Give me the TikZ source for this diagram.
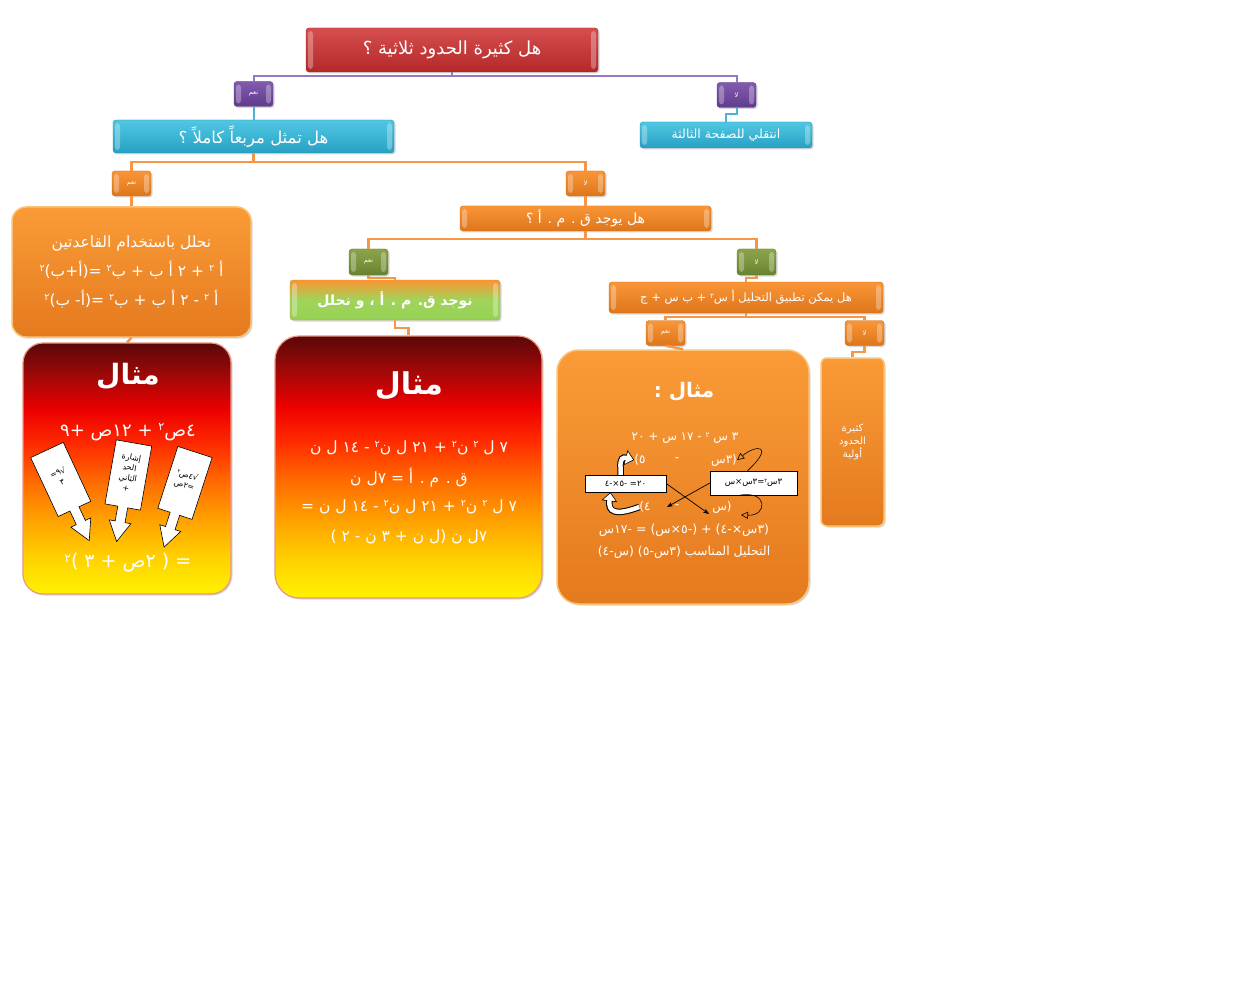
\documentclass[tikz,border=0pt]{standalone}
\usepackage{fontspec}
\usetikzlibrary{shadows,arrows.meta,calc}
\newfontfamily\arabicfont[Script=Arabic]{DejaVu Sans}
\TeXXeTstate=1
\newcommand{\artxt}[1]{\beginR #1\endR}
\makeatletter
\newcommand{\sq}[1]{\raisebox{0.55ex}{\fontsize{\fpeval{0.62*\f@size}}{2}\selectfont #1}}
\makeatother
\definecolor{fy}{HTML}{FFF200}
\definecolor{fy2}{HTML}{FFD000}
\definecolor{fo1}{HTML}{FFA000}
\definecolor{fo2}{HTML}{FF6A00}
\definecolor{fo3}{HTML}{FF2A00}
\definecolor{fr}{HTML}{EE0000}
\definecolor{fr2}{HTML}{A00808}
\definecolor{fd}{HTML}{5A0808}
\pgfdeclareverticalshading{fireshade}{100bp}{color(0bp)=(fy); color(25bp)=(fy); color(32.5bp)=(fy2); color(40bp)=(fo1); color(47.5bp)=(fo2); color(55bp)=(fo3); color(61.5bp)=(fr); color(68.5bp)=(fr2); color(75bp)=(fd); color(100bp)=(fd)}
\definecolor{orline}{HTML}{F79646}
\definecolor{puline}{HTML}{9478C0}
\definecolor{cyline}{HTML}{4BB4D6}
\tikzset{
  box/.style={inner sep=0pt, align=center, text=white, font=\arabicfont,
    drop shadow={shadow xshift=1.5pt, shadow yshift=-1.5pt, opacity=0.3}},
  bevel/.style={path picture={
     \fill[white,opacity=0.3] ([xshift=2pt,yshift=-3pt]path picture bounding box.north west) rectangle ([xshift=7pt,yshift=3pt]path picture bounding box.south west);
     \fill[white,opacity=0.3] ([xshift=-2pt,yshift=-3pt]path picture bounding box.north east) rectangle ([xshift=-7pt,yshift=3pt]path picture bounding box.south east);}},
  redbar/.style={box, bevel, rounded corners=3pt, top color={rgb,255:red,214;green,78;blue,78}, bottom color={rgb,255:red,180;green,40;blue,42}, draw={rgb,255:red,160;green,40;blue,40}},
  purplab/.style={box, bevel, rounded corners=3pt, minimum width=39pt, minimum height=25pt, top color={rgb,255:red,130;green,90;blue,175}, bottom color={rgb,255:red,96;green,60;blue,140}, draw={rgb,255:red,90;green,60;blue,130}, font=\arabicfont\fontsize{6.5}{7}\selectfont},
  cyanbar/.style={box, bevel, rounded corners=3pt, top color={rgb,255:red,80;green,200;blue,228}, bottom color={rgb,255:red,40;green,160;blue,195}, draw={rgb,255:red,40;green,140;blue,175}},
  orbar/.style={box, bevel, rounded corners=3pt, top color={rgb,255:red,250;green,150;blue,55}, bottom color={rgb,255:red,222;green,118;blue,28}, draw={rgb,255:red,205;green,105;blue,20}},
  orlab/.style={orbar, minimum width=39pt, minimum height=25pt, font=\arabicfont\fontsize{6.5}{7}\selectfont},
  grlab/.style={box, bevel, rounded corners=3pt, minimum width=39pt, minimum height=26pt, top color={rgb,255:red,140;green,165;blue,75}, bottom color={rgb,255:red,105;green,130;blue,48}, draw={rgb,255:red,95;green,120;blue,40}, font=\arabicfont\fontsize{6.5}{7}\selectfont},
  orbig/.style={box, top color={rgb,255:red,250;green,155;blue,55}, bottom color={rgb,255:red,228;green,122;blue,30}, draw={rgb,255:red,250;green,195;blue,120}, line width=1.5pt},
  firebox/.style={box, shading=fireshade, draw={rgb,255:red,235;green,150;blue,130}, line width=1.2pt, rounded corners=20pt},
  conn/.style={line width=2.4pt, orline},
  whitebox/.style={draw=black, fill=white, inner sep=0pt, font=\arabicfont\fontsize{8.5}{9}\selectfont},
  calloutshape/.style={draw=black, fill=white, line width=0.6pt},
  extxt/.style={text=white, inner sep=0pt, font=\arabicfont\fontsize{12}{13}\selectfont},
}
\newcommand{\callout}[3]{%
  \begin{scope}[shift={#1}, rotate=#2]
    \draw[calloutshape] (-18,0) -- (18,0) -- (18,65) -- (5,65) -- (5,80) -- (11,80) -- (0,100) -- (-11,80) -- (-5,80) -- (-5,65) -- (-18,65) -- cycle;
    \node[align=center, text=black, inner sep=0pt, rotate=#2, font=\arabicfont\fontsize{8}{10.5}\selectfont] at (0,30) {#3};
  \end{scope}}
\begin{document}
\begin{tikzpicture}[x=1pt,y=-1pt]
\fill[white] (0,0) rectangle (1257,1000);
\useasboundingbox (0,0) rectangle (1257,1000);

% level 0
\node[redbar, minimum width=292pt, minimum height=44pt, font=\arabicfont\fontsize{18}{22}\selectfont] (title) at (452,50) {\artxt{هل كثيرة الحدود ثلاثية ؟}};
\node[purplab] (yesP) at (253.5,94) {\artxt{نعم}};
\node[purplab] (noP) at (736.5,95) {\artxt{لا}};
\node[cyanbar, minimum width=281pt, minimum height=33pt, font=\arabicfont\fontsize{16.5}{20}\selectfont] (qsq) at (253.5,136.5) {\artxt{هل تمثل مربعاً كاملاً ؟}};
\node[cyanbar, minimum width=172pt, minimum height=26pt, font=\arabicfont\fontsize{12.5}{14}\selectfont] (goto) at (726,135) {\artxt{انتقلي للصفحة الثالثة}};
\node[orlab] (yesO1) at (131.5,183.5) {\artxt{نعم}};
\node[orlab] (noO1) at (585.5,183.5) {\artxt{لا}};
\node[orbig, rounded corners=14pt, minimum width=239pt, minimum height=130pt, font=\arabicfont\fontsize{15.5}{29}\selectfont] (rules) at (131.5,272)
  {\artxt{نحلل باستخدام القاعدتين}\\\artxt{أ \sq{٢} + ٢ أ ب + ب\sq{٢} =(أ+ب)\sq{٢}}\\\artxt{أ \sq{٢} - ٢ أ ب + ب\sq{٢} =(أ- ب)\sq{٢}}};
\node[orbar, minimum width=251pt, minimum height=25pt, font=\arabicfont\fontsize{14}{16}\selectfont] (qgcf) at (585.5,218.5) {\artxt{هل يوجد ق . م . أ ؟}};
\node[grlab] (yesG) at (368.5,262) {\artxt{نعم}};
\node[grlab] (noG) at (756.5,262) {\artxt{لا}};
\node[box, bevel, rounded corners=3pt, minimum width=210pt, minimum height=40pt, top color={rgb,255:red,250;green,150;blue,50}, bottom color={rgb,255:red,150;green,210;blue,85}, middle color={rgb,255:red,160;green,212;blue,90}, draw={rgb,255:red,200;green,150;blue,60}, font=\arabicfont\bfseries\fontsize{14}{16}\selectfont] (gcf) at (395,300) {\artxt{نوجد ق. م . أ ، و نحلل}};
\node[orbar, minimum width=274pt, minimum height=31pt, font=\arabicfont\fontsize{11.5}{13}\selectfont] (qtri) at (746,297.5) {\artxt{هل يمكن تطبيق التحليل أ س\sq{٢} + ب س + ج}};
\node[orlab] (yesO2) at (665.5,333) {\artxt{نعم}};
\node[orlab] (noO2) at (864.5,333) {\artxt{لا}};

% example boxes
\node[firebox, minimum width=208pt, minimum height=251pt] (ex1) at (127,468.5) {};
\node[firebox, minimum width=267pt, minimum height=262pt, rounded corners=24pt] (ex2) at (408.5,467) {};
\node[orbig, rounded corners=22pt, minimum width=252pt, minimum height=254pt] (ex3) at (683,477) {};
\node[orbig, rounded corners=6pt, minimum width=63pt, minimum height=168pt, font=\arabicfont\fontsize{10}{13}\selectfont] (prime) at (852.5,442) {\artxt{كثيرة}\\\artxt{الحدود}\\\artxt{أولية}};

% connectors
\draw[line width=2pt, puline] (title.south) -- ++(0,4) -| (yesP.north);
\draw[line width=2pt, puline] (title.south) -- ++(0,4) -| (noP.north);
\draw[line width=2pt, cyline] (yesP.south) -- (qsq.north);
\draw[line width=2pt, cyline] (noP.south) -- ++(0,6) -| (goto.north);
\draw[conn] (qsq.south) -- ++(0,9) -| (yesO1.north);
\draw[conn] (qsq.south) -- ++(0,9) -| (noO1.north);
\draw[conn] (yesO1.south) -- (rules.north);
\draw[conn] (noO1.south) -- (qgcf.north);
\draw[conn] (qgcf.south) -- ++(0,8) -| (yesG.north);
\draw[conn] (qgcf.south) -- ++(0,8) -| (noG.north);
\draw[conn] (yesG.south) -- ++(0,3) -| (gcf.north);
\draw[conn] (noG.south) -- ++(0,3) -| (qtri.north);
\draw[conn] (qtri.south) -- ++(0,4) -| (yesO2.north);
\draw[conn] (qtri.south) -- ++(0,4) -| (noO2.north);
\draw[conn] (yesO2.south) -- (ex3.north);
\draw[conn] (noO2.south) -- ++(0,6) -| (prime.north);
\draw[conn] (rules.south) -- (ex1.north);
\draw[conn] (gcf.south) -- ++(0,8) -| (ex2.north);

% example 1
\node[extxt, font=\arabicfont\bfseries\fontsize{28}{30}\selectfont] (m1) at (128,376) {\artxt{مثال}};
\node[extxt, font=\arabicfont\fontsize{18}{20}\selectfont] (e1a) at (128,432) {\artxt{٤ص\sq{٢} + ١٢ص +٩}};
\node[extxt, font=\arabicfont\fontsize{19}{21}\selectfont] (e1b) at (128,563) {\artxt{= ( ٢ص + ٣ )\sq{٢}}};
\callout{(47,450)}{25}{\artxt{√٩=}\\\artxt{٣}}
\callout{(134,443)}{-10}{\artxt{إشارة}\\\artxt{الحد}\\\artxt{الثاني}\\+}
\callout{(195,452)}{-18}{\artxt{√٤ص\sq{٢}}\\\artxt{=٢ص}}

% example 2
\node[extxt, font=\arabicfont\bfseries\fontsize{30}{32}\selectfont] (m2) at (409,386) {\artxt{مثال}};
\node[extxt, font=\arabicfont\fontsize{15.5}{17}\selectfont] (e2a) at (409,448) {\artxt{٧ ل \sq{٢} ن\sq{٢} + ٢١ ل ن\sq{٢} - ١٤ ل ن}};
\node[extxt, font=\arabicfont\fontsize{15.5}{17}\selectfont] (e2b) at (409,478) {\artxt{ق . م . أ = ٧ل ن}};
\node[extxt, font=\arabicfont\fontsize{15.5}{17}\selectfont] (e2c) at (409,507) {\artxt{٧ ل \sq{٢} ن\sq{٢} + ٢١ ل ن\sq{٢} - ١٤ ل ن =}};
\node[extxt, font=\arabicfont\fontsize{15.5}{17}\selectfont] (e2d) at (409,537) {\artxt{٧ل ن (ل ن + ٣ ن - ٢ )}};

% example 3
\node[extxt, font=\arabicfont\bfseries\fontsize{20}{22}\selectfont] (m3) at (684,392) {\artxt{مثال :}};
\node[extxt] (e3a) at (685,438) {\artxt{٣ س \sq{٢} - ١٧ س + ٢٠}};
\node[extxt] (e3b1) at (724,460) {\artxt{(٣س}};
\node[extxt] (e3b2) at (677,460) {-};
\node[extxt] (e3b3) at (640,460) {\artxt{٥)}};
\node[whitebox, minimum width=81pt, minimum height=17pt] (wl) at (625.5,483.5) {\artxt{٢٠= -٥×-٤}};
\node[whitebox, minimum width=87pt, minimum height=24pt] (wr) at (753.5,483) {\artxt{٣س\sq{٢}=٣س×س}};
\node[extxt] (e3c1) at (722,507) {\artxt{(س}};
\node[extxt] (e3c2) at (677,507) {-};
\node[extxt] (e3c3) at (645,507) {\artxt{٤)}};
\node[extxt, font=\arabicfont\fontsize{12.5}{13}\selectfont] (e3d) at (684,530) {\artxt{(٣س×-٤) + (-٥×س) = -١٧س}};
\node[extxt, font=\arabicfont\fontsize{12.5}{13}\selectfont] (e3e) at (684,552) {\artxt{التحليل المناسب (٣س-٥) (س-٤)}};
\coordinate (xa) at (667,507);
\coordinate (xb) at (709,514);
\draw[-{Stealth[length=6pt]}, line width=0.7pt] (wr.west) -- (xa);
\draw[-{Stealth[length=6pt]}, line width=0.7pt] (wl.east) -- (xb);
\draw[-{Triangle[open,length=7pt,width=7pt]}, line width=0.6pt] ([xshift=-6pt]wr.north) .. controls (775,445) and (757,444) .. (e3b1.east);
\draw[-{Triangle[open,length=7pt,width=7pt]}, line width=0.6pt] ([xshift=-14pt]wr.south) .. controls (768,490) and (768,516) .. (741,515);
% white block arrows
\draw[line width=6.5pt, -{Triangle[width=15pt,length=9pt]}] ([xshift=-5pt]wl.north) -- ++(0,-7) .. controls (620,458) and (623,457) .. (e3b3.west);
\draw[line width=4.5pt, white, shorten >=1.2pt, -{Triangle[width=12pt,length=7pt]}] ([xshift=-5pt]wl.north) -- ++(0,-7) .. controls (620,458) and (623,457) .. (e3b3.west);
\draw[line width=6.5pt, -{Triangle[width=15pt,length=9pt]}] (e3c3.west) .. controls (615,516) and (608,512) .. ([xshift=-15pt]wl.south);
\draw[line width=4.5pt, white, shorten >=1.2pt, -{Triangle[width=12pt,length=7pt]}] (e3c3.west) .. controls (615,516) and (608,512) .. ([xshift=-15pt]wl.south);
\end{tikzpicture}
\end{document}
